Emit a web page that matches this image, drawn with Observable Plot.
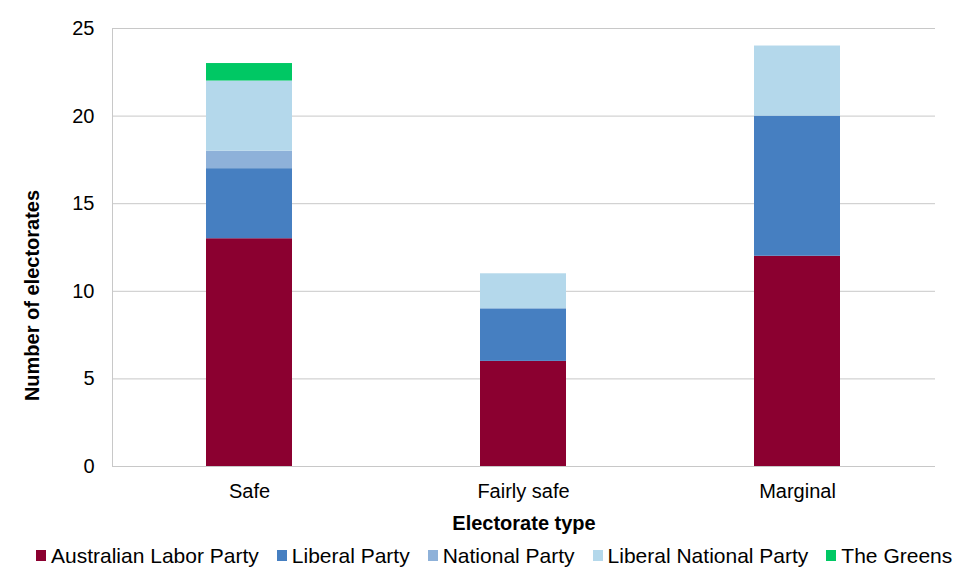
<!DOCTYPE html>
<html><head><meta charset="utf-8">
<script src="https://cdn.jsdelivr.net/npm/d3@7"></script>
<script src="https://cdn.jsdelivr.net/npm/@observablehq/plot@0.6"></script>
<style>
body{margin:0;background:#fff;font-family:"Liberation Sans",Arial,sans-serif;}
#chart svg{display:block;}
#legend{display:flex;justify-content:flex-start;padding-left:36px;font-size:21px;color:#000;margin-top:6px;line-height:23px;}
#legend span.item{display:flex;align-items:center;margin-right:18px;white-space:nowrap;}
#legend span.sw{display:inline-block;width:10px;height:11px;margin-right:5px;}
</style></head>
<body><div id="chart"></div><div id="legend"></div>
<script>
const categories = ["Safe","Fairly safe","Marginal"];
const parties = ["Australian Labor Party","Liberal Party","National Party","Liberal National Party","The Greens"];
const colors = ["#8B0030","#467FC1","#8EB1D9","#B4D8EB","#00C864"];
const alp = [13,6,12];
const liberal = [4,3,8];
const national = [1,0,0];
const lnp = [4,2,4];
const greens = [1,0,0];
const yTicks = [0,5,10,15,20,25];

const series = [alp, liberal, national, lnp, greens];
const data = [];
parties.forEach((p,i)=>categories.forEach((c,j)=>{ if(series[i][j]>0) data.push({type:c, party:p, value:series[i][j]}); }));

const chart = Plot.plot({
  width:977, height:538,
  marginLeft:112, marginRight:42, marginTop:28, marginBottom:72,
  style:{fontFamily:"Liberation Sans, Arial, sans-serif", fontSize:"20px", color:"#000"},
  x:{domain:categories, paddingInner:0.686, paddingOuter:0.343, label:null, axis:null},
  y:{domain:[0,25], ticks:yTicks, label:null, axis:null},
  color:{domain:parties, range:colors},
  marks:[
    Plot.gridY(yTicks,{stroke:"#c8c8c8", strokeOpacity:1, strokeWidth:1}),
    Plot.barY(data,{x:"type", y:"value", fill:"party", order:parties}),
    Plot.axisX({tickSize:0, tickPadding:17, fontSize:20, label:null}),
    Plot.axisY(yTicks,{tickSize:0, tickPadding:18, fontSize:20, label:null}),
    Plot.text(["Electorate type"],{frameAnchor:"bottom", dy:63, fontWeight:"bold", fontSize:20}),
    Plot.text(["Number of electorates"],{frameAnchor:"left", textAnchor:"middle", dx:-80, dy:48, rotate:-90, fontWeight:"bold", fontSize:20})
  ]
});
// left axis line drawn with the library's y scale
const ys = chart.scale("y");
d3.select(chart).append("line")
  .attr("x1", 112.5).attr("x2", 112.5)
  .attr("y1", ys.apply(0)).attr("y2", ys.apply(25))
  .attr("stroke", "#c8c8c8");
document.getElementById("chart").appendChild(chart);
const lg = document.getElementById("legend");
parties.forEach((p,i)=>{
  const it=document.createElement("span"); it.className="item";
  it.innerHTML=`<span class="sw" style="background:${colors[i]}"></span>${p}`;
  lg.appendChild(it);
});
</script></body></html>
